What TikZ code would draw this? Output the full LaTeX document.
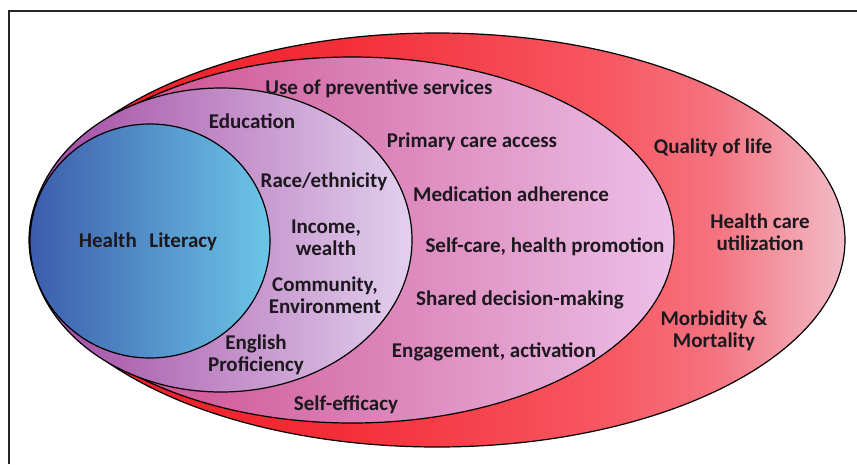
\documentclass[tikz,border=0pt]{standalone}
\usepackage{fontspec}
\setmainfont{Carlito}
\definecolor{txt}{RGB}{28,24,30}
\definecolor{pinkL}{RGB}{200,60,130}
\definecolor{pinkR}{RGB}{236,192,232}
\definecolor{purL}{RGB}{160,70,160}
\definecolor{purR}{RGB}{226,208,238}
\definecolor{bluL}{RGB}{60,92,172}
\definecolor{bluR}{RGB}{108,198,232}
\pgfdeclarehorizontalshading{redsh}{100bp}{%
  rgb(0bp)=(0.925,0.094,0.125);
  rgb(25bp)=(0.925,0.094,0.125);
  rgb(44bp)=(0.955,0.180,0.220);
  rgb(60bp)=(0.970,0.340,0.380);
  rgb(67bp)=(0.960,0.450,0.500);
  rgb(75bp)=(0.945,0.740,0.780);
  rgb(100bp)=(0.945,0.740,0.780)}
\tikzset{
  ring/.style={draw=black, line width=1.2pt},
  lab/.style={text=txt, font=\fontsize{21}{22.5}\selectfont\bfseries, align=center, inner sep=0pt},
}
\begin{document}
\begin{tikzpicture}[x=1pt,y=-1pt]
\useasboundingbox (0,0) rectangle (857,464);
\fill[white] (0,0) rectangle (857,464);
% frame
\draw[line width=2pt, black!85] (8.5,464) -- (8.5,11) -- (857,11);
% ellipses
\shade[ring, shading=redsh]
  (437,240) ellipse [x radius=408pt, y radius=207pt];
\shade[ring, left color=pinkL, right color=pinkR]
  (352,240) ellipse [x radius=322pt, y radius=183pt];
\shade[ring, left color=purL, right color=purR]
  (221,240) ellipse [x radius=191pt, y radius=152pt];
\shade[ring, left color=bluL, right color=bluR]
  (150,241) ellipse [x radius=120pt, y radius=117pt];
% labels
\node[lab] (hl) at (148,242) {Health\hspace{0.6em}Literacy};
\node[lab] (edu) at (252,121) {Education};
\node[lab] (ups) at (379,89) {Use of preventive services};
\node[lab] (race) at (324,182) {Race/ethnicity};
\node[lab] (inc) at (326,238) {Income,\\wealth};
\node[lab] (com) at (325,295) {Community,\\Environment};
\node[lab] (eng) at (256,355) {English\\Proficiency};
\node[lab] (se) at (346,405) {Self-efficacy};
\node[lab] (pca) at (472,142) {Primary care access};
\node[lab] (med) at (511,194) {Medication adherence};
\node[lab] (sc) at (545,247) {Self-care, health promotion};
\node[lab] (sdm) at (520,300) {Shared decision-making};
\node[lab] (ea) at (494,352) {Engagement, activation};
\node[lab] (qol) at (713,148) {Quality of life};
\node[lab] (hcu) at (760,232) {Health care\\utilization};
\node[lab] (mm) at (714,331) {Morbidity \&\\Mortality};
\end{tikzpicture}
\end{document}
